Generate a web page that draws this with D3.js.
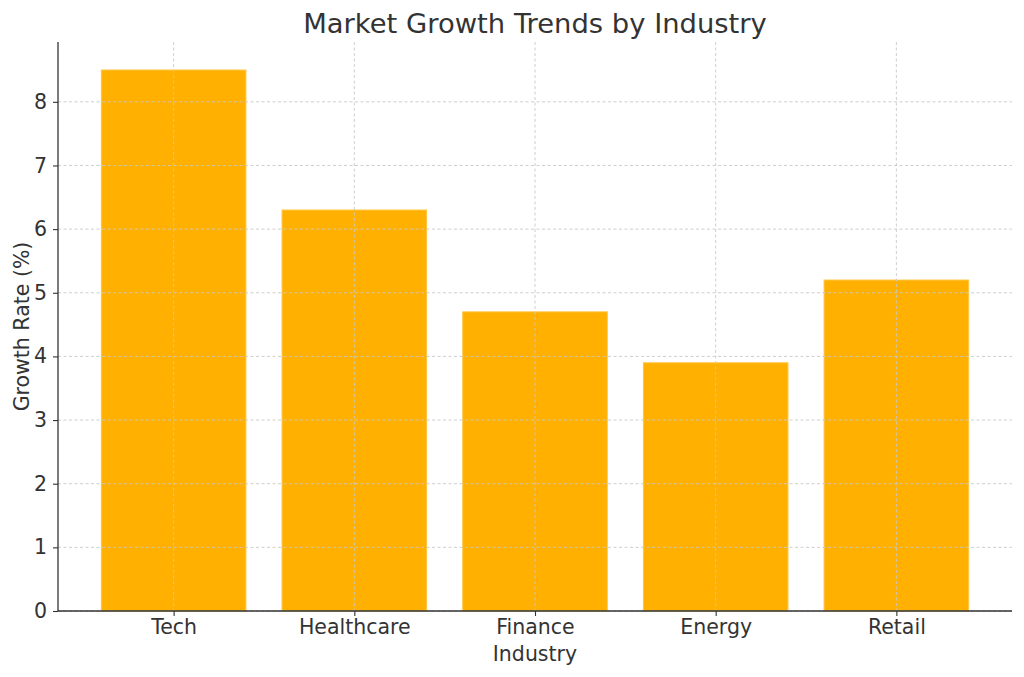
<!DOCTYPE html>
<html><head><meta charset="utf-8">
<script src="https://cdn.jsdelivr.net/npm/d3@7"></script>
<style>body{margin:0;background:#fff;}svg{display:block;font-family:"DejaVu Sans",sans-serif;}</style>
</head><body>
<svg id="c" width="1024" height="677"></svg>
<script>
const categories = ["Tech","Healthcare","Finance","Energy","Retail"];
const growthRates = [8.5,6.3,4.7,3.9,5.2];
const yTicks = [0,1,2,3,4,5,6,7,8];

const svg = d3.select("#c");
const m = {left:58, right:1012, top:42, bottom:611};
const x = d3.scaleLinear().domain([-0.64, 4.64]).range([m.left, m.right]);
const y = d3.scaleLinear().domain([0, 8.94]).range([m.bottom, m.top]);
const bw = x(0.4) - x(-0.4);
const textColor = "#333";

// bars
svg.append("g").selectAll("rect").data(growthRates).join("rect")
  .attr("x",(d,i)=>x(i)-bw/2).attr("width",bw)
  .attr("y",d=>y(d)).attr("height",d=>y(0)-y(d))
  .attr("fill","#FFB000").attr("stroke","#FFC540").attr("stroke-width",1);

// grid
const grid = svg.append("g").attr("stroke","#c8c8c8").attr("stroke-width",0.9).attr("stroke-dasharray","3,2.5");
yTicks.forEach(t=>grid.append("line").attr("x1",m.left).attr("x2",m.right).attr("y1",y(t)).attr("y2",y(t)));
categories.forEach((c,i)=>grid.append("line").attr("y1",m.top).attr("y2",m.bottom).attr("x1",x(i)).attr("x2",x(i)));

// axes
const yAxis = svg.append("g").attr("transform",`translate(${m.left},0)`)
  .call(d3.axisLeft(y).tickValues(yTicks).tickSize(5).tickPadding(6).tickFormat(d3.format("d")));
const xAxis = svg.append("g").attr("transform",`translate(0,${m.bottom})`)
  .call(d3.axisBottom(x).tickValues(d3.range(categories.length)).tickSize(5).tickPadding(3).tickFormat(i=>categories[i]));
[xAxis,yAxis].forEach(a=>{
  a.attr("font-size",20.5).attr("font-family","DejaVu Sans");
  a.select(".domain").attr("stroke",textColor).attr("stroke-width",1.3);
  a.selectAll(".tick line").attr("stroke",textColor).attr("stroke-width",1.1);
  a.selectAll(".tick text").attr("fill",textColor);
});
xAxis.select(".domain").attr("d",`M${m.left},0H${m.right}`);
yAxis.select(".domain").attr("d",`M0,${m.bottom}V${m.top}`);

svg.append("text").attr("x",(m.left+m.right)/2).attr("y",33).attr("text-anchor","middle")
  .attr("font-size",27.4).attr("fill",textColor).text("Market Growth Trends by Industry");
svg.append("text").attr("x",(m.left+m.right)/2).attr("y",661).attr("text-anchor","middle")
  .attr("font-size",20.5).attr("fill",textColor).text("Industry");
svg.append("text").attr("transform",`translate(29,${(m.top+m.bottom)/2}) rotate(-90)`).attr("text-anchor","middle")
  .attr("font-size",20.5).attr("fill",textColor).text("Growth Rate (%)");
</script>
</body></html>
